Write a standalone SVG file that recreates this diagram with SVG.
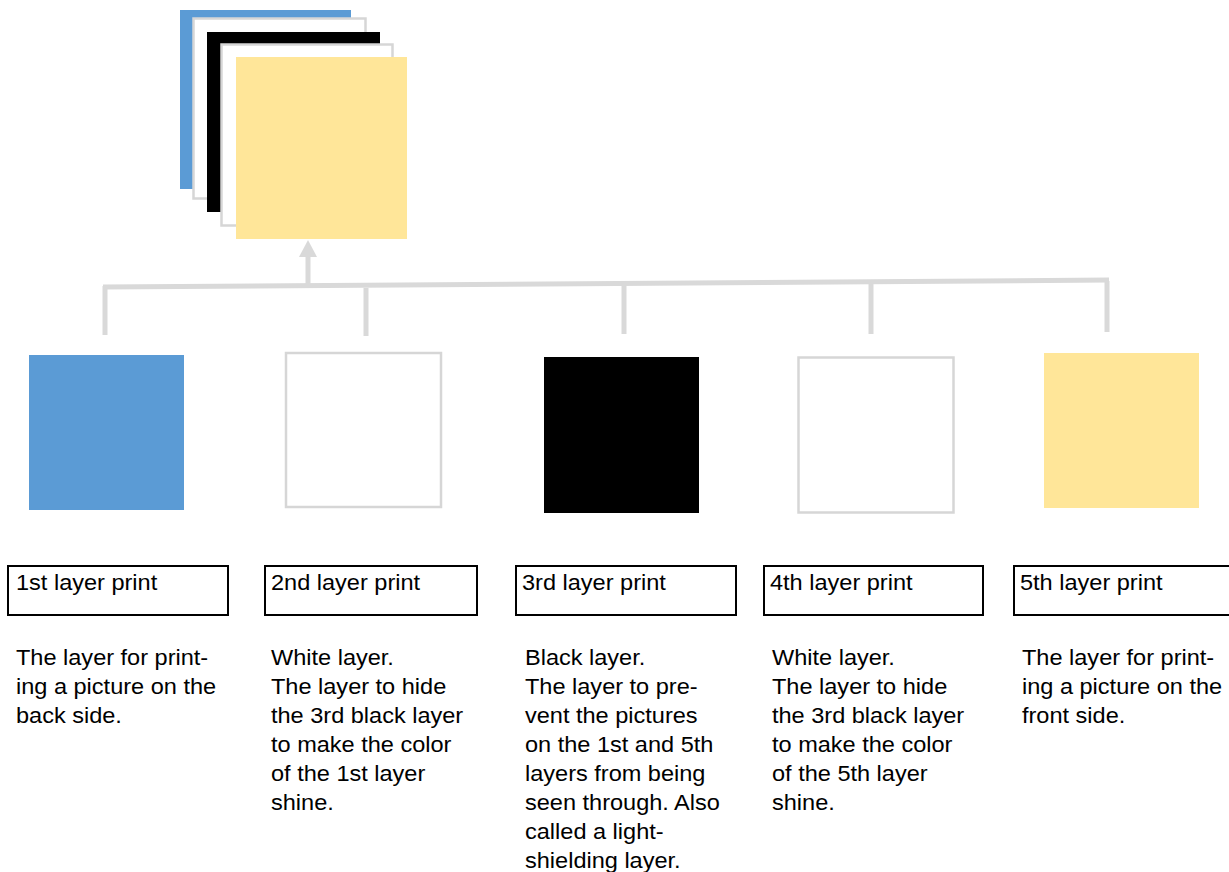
<svg xmlns="http://www.w3.org/2000/svg" width="1229" height="872" viewBox="0 0 1229 872">
<style>
.blue{fill:#5B9BD5}
.yellow{fill:#FFE699}
.black{fill:#000}
.white{fill:#fff;stroke:#D6D6D6;stroke-width:2.5}
.conn{stroke:#D9D9D9;stroke-width:5;fill:none}
.lbl{fill:#fff;stroke:#000;stroke-width:2}
text{font-family:"Liberation Sans",Arial,sans-serif;font-size:22px;fill:#000}
</style>
<rect width="1229" height="872" fill="#fff"/>
<g id="stack">
<rect class="blue" x="180" y="10" width="171" height="179"/>
<rect class="white" x="193.5" y="18.5" width="172" height="180"/>
<rect class="black" x="207" y="32" width="173" height="180"/>
<rect class="white" x="221.5" y="44.5" width="171" height="181"/>
<rect class="yellow" x="236" y="57" width="171" height="182"/>
</g>
<g id="connectors">
<path class="conn" d="M103 287 L1109 280"/>
<path class="conn" d="M105 286 V335 M366 288 V336 M624 284 V334 M871 283 V334 M1107 281 V332"/>
<path class="conn" d="M308 285 V254"/>
<polygon points="299,257 317,257 308,240" fill="#D9D9D9"/>
</g>
<g id="layer1">
<rect class="blue" x="29" y="355" width="155" height="155"/>
<rect class="lbl" x="8" y="566" width="220" height="49"/>
<g transform="translate(16,0) scale(1.07,1)">
<text x="0" y="590">1st layer print</text>
<text x="0" y="665">The layer for print-</text>
<text x="0" y="694">ing a picture on the</text>
<text x="0" y="723">back side.</text>
</g>
</g>
<g id="layer2">
<rect class="white" x="286" y="353" width="155" height="154"/>
<rect class="lbl" x="265" y="566" width="212" height="49"/>
<g transform="translate(271,0) scale(1.07,1)">
<text x="0" y="590">2nd layer print</text>
<text x="0" y="665">White layer.</text>
<text x="0" y="694">The layer to hide</text>
<text x="0" y="723">the 3rd black layer</text>
<text x="0" y="752">to make the color</text>
<text x="0" y="781">of the 1st layer</text>
<text x="0" y="810">shine.</text>
</g>
</g>
<g id="layer3">
<rect class="black" x="544" y="357" width="155" height="156"/>
<rect class="lbl" x="516" y="566" width="220" height="49"/>
<g transform="translate(522,0) scale(1.07,1)">
<text x="0" y="590">3rd layer print</text>
</g>
<g transform="translate(525,0) scale(1.07,1)">
<text x="0" y="665">Black layer.</text>
<text x="0" y="694">The layer to pre-</text>
<text x="0" y="723">vent the pictures</text>
<text x="0" y="752">on the 1st and 5th</text>
<text x="0" y="781">layers from being</text>
<text x="0" y="810">seen through. Also</text>
<text x="0" y="839">called a light-</text>
<text x="0" y="868">shielding layer.</text>
</g>
</g>
<g id="layer4">
<rect class="white" x="798.5" y="357.5" width="155" height="155"/>
<rect class="lbl" x="764" y="566" width="219" height="49"/>
<g transform="translate(770,0) scale(1.07,1)">
<text x="0" y="590">4th layer print</text>
</g>
<g transform="translate(772,0) scale(1.07,1)">
<text x="0" y="665">White layer.</text>
<text x="0" y="694">The layer to hide</text>
<text x="0" y="723">the 3rd black layer</text>
<text x="0" y="752">to make the color</text>
<text x="0" y="781">of the 5th layer</text>
<text x="0" y="810">shine.</text>
</g>
</g>
<g id="layer5">
<rect class="yellow" x="1044" y="353" width="155" height="155"/>
<rect class="lbl" x="1014" y="566" width="230" height="49"/>
<g transform="translate(1020,0) scale(1.07,1)">
<text x="0" y="590">5th layer print</text>
</g>
<g transform="translate(1022,0) scale(1.07,1)">
<text x="0" y="665">The layer for print-</text>
<text x="0" y="694">ing a picture on the</text>
<text x="0" y="723">front side.</text>
</g>
</g>
</svg>
